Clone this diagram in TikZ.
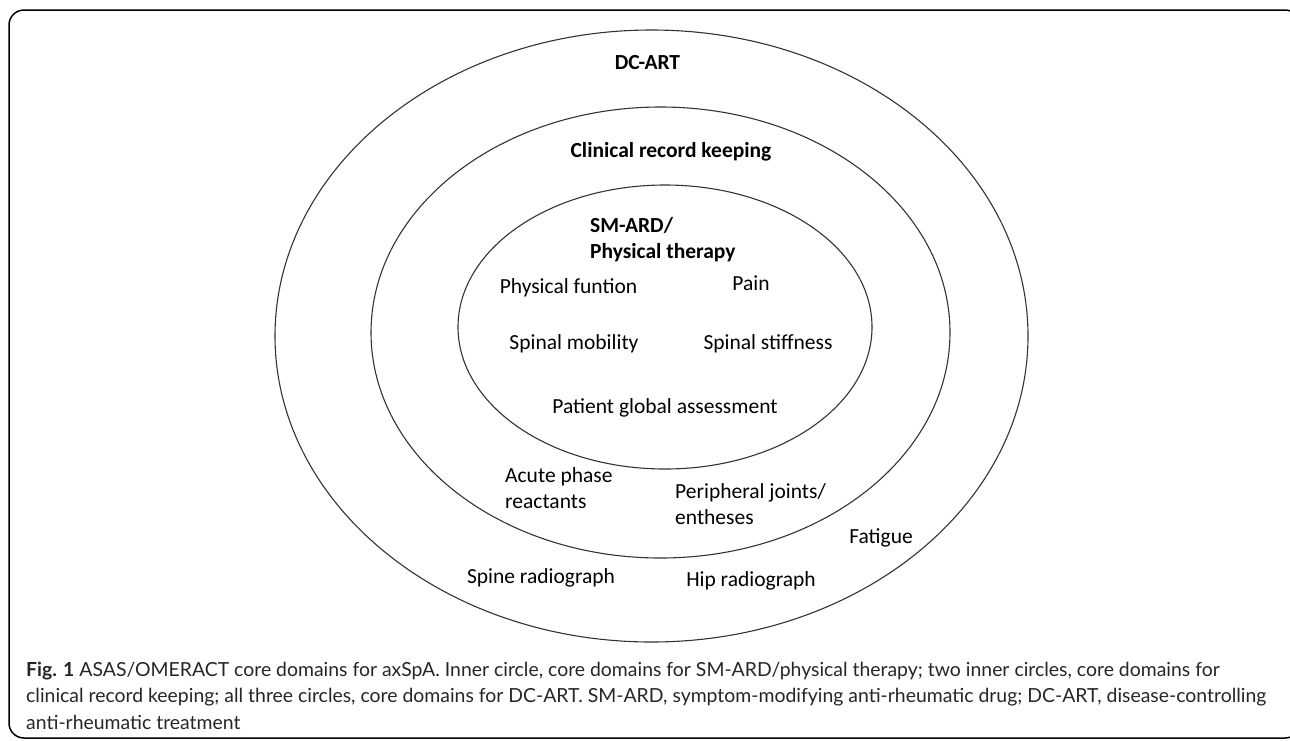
\documentclass[tikz,border=0pt]{standalone}
\usepackage{fontspec}
\setmainfont{Carlito}
\newfontfamily\captionfont{Lato}
\usetikzlibrary{positioning}

\tikzset{
  ring/.style={draw=black!80, line width=1.1pt},
  coretext/.style={font=\fontsize{21.5}{25.5}\selectfont, inner sep=0pt, align=left, anchor=base},
  ringtitle/.style={coretext, font=\fontsize{21.5}{25.5}\selectfont\bfseries},
}

\begin{document}
\begin{tikzpicture}[x=1pt, y=-1pt]
  \useasboundingbox (0,0) rectangle (1290,740);

  % frame round figure and caption (right side runs off the page)
  \draw[line width=1.5pt, rounded corners=15pt] (9,10) rectangle (1300,738);

  % the three domain rings
  \draw[ring] (651.5,336) ellipse [x radius=376.5, y radius=306];
  \draw[ring] (660.5,332.5) ellipse [x radius=289.5, y radius=225.5];
  \draw[ring] (665,327) ellipse [x radius=207, y radius=142];

  % ring titles
  \node[ringtitle] (dcart) at (647.5,69) {DC-ART};
  \node[ringtitle] (clinical) at (671,157) {Clinical record keeping};
  \node[ringtitle, anchor=base west] (smard) at (590,258) {SM-ARD/\\Physical therapy};

  % inner ring
  \node[coretext] (function) at (568.5,293) {Physical funtion};
  \node[coretext] (pain) at (751,290) {Pain};
  \node[coretext] (mobility) at (574,349) {Spinal mobility};
  \node[coretext] (stiffness) at (768,349) {Spinal stiffness};
  \node[coretext] (global) at (665,413) {Patient global assessment};

  % middle ring
  \node[coretext, anchor=base west] (acute) at (505,508) {Acute phase\\reactants};
  \node[coretext, anchor=base west] (joints) at (675,524) {Peripheral joints/\\entheses};

  % outer ring
  \node[coretext] (fatigue) at (881,543) {Fatigue};
  \node[coretext] (spine) at (541,583) {Spine radiograph};
  \node[coretext] (hip) at (751,586) {Hip radiograph};

  % caption
  \node[font=\captionfont\fontsize{19.4}{26.5}\selectfont, text=black!85, inner sep=0pt,
        align=left, anchor=base west] (caption) at (26,729)
    {\textbf{Fig. 1} ASAS/OMERACT core domains for axSpA. Inner circle, core domains for SM-ARD/physical therapy; two inner circles, core domains for\\
     clinical record keeping; all three circles, core domains for DC-ART. SM-ARD, symptom-modifying anti-rheumatic drug; DC-ART, disease-controlling\\
     anti-rheumatic treatment};
\end{tikzpicture}
\end{document}
